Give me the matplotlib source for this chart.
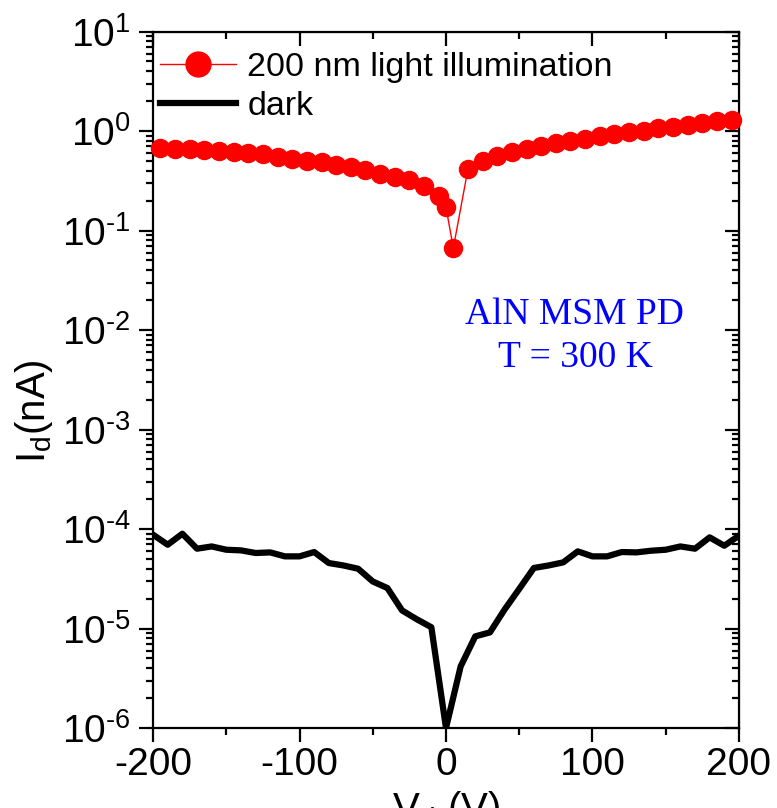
import numpy as np
import matplotlib.pyplot as plt
from matplotlib.ticker import LogLocator, MultipleLocator, NullFormatter

plt.rcParams['font.family'] = ['Liberation Sans', 'DejaVu Sans']
plt.rcParams['axes.unicode_minus'] = False
plt.rcParams['mathtext.fontset'] = 'custom'
plt.rcParams['mathtext.rm'] = 'Liberation Sans'

# photocurrent under 200 nm illumination
v_light = [-195, -185, -175, -165, -155, -145, -135, -125, -115, -105,
           -95, -85, -75, -65, -55, -45, -35, -25, -15, -5, 0, 5,
           15, 25, 35, 45, 55, 65, 75, 85, 95, 105, 115, 125, 135,
           145, 155, 165, 175, 185, 195]
i_light = [0.675, 0.66, 0.66, 0.65, 0.634, 0.62, 0.60, 0.587, 0.548, 0.523,
           0.50, 0.484, 0.455, 0.43, 0.408, 0.372, 0.345, 0.324, 0.282, 0.22, 0.171, 0.0667,
           0.415, 0.503, 0.565, 0.615, 0.66, 0.711, 0.751, 0.80, 0.837, 0.897, 0.933, 0.977, 1.01,
           1.06, 1.11, 1.16, 1.20, 1.25, 1.30]

# dark current
v_dark = list(range(-200, 201, 10))
i_dark = [8.77e-5, 6.95e-5, 8.97e-5, 6.34e-5, 6.68e-5, 6.19e-5, 6.1e-5, 5.74e-5, 5.82e-5, 5.31e-5,
          5.31e-5, 5.87e-5, 4.55e-5, 4.3e-5, 3.99e-5, 2.97e-5, 2.55e-5, 1.52e-5, 1.24e-5, 1.03e-5,
          1.0e-6,
          4.16e-6, 8.34e-6, 9.14e-6, 1.55e-5, 2.5e-5, 4.06e-5, 4.3e-5, 4.62e-5, 5.96e-5, 5.31e-5,
          5.31e-5, 5.87e-5, 5.82e-5, 6.05e-5, 6.19e-5, 6.68e-5, 6.34e-5, 8.24e-5, 6.79e-5, 8.57e-5]

y_exp = list(range(-6, 2))

fig = plt.figure(figsize=(7.77, 8.08), dpi=100)
ax = fig.add_axes([0.197, 0.099, 0.754, 0.862])

ax.plot(v_light, i_light, color='red', lw=1, marker='o', ms=13,
        label='200 nm light illumination', clip_on=False, zorder=3)
ax.plot(v_dark, i_dark, color='black', lw=4.5, label='dark')

ax.set_yscale('log')
ax.set_xlim(-200, 200)
ax.set_ylim(1e-6, 1e1)

ax.xaxis.set_major_locator(MultipleLocator(100))
ax.xaxis.set_minor_locator(MultipleLocator(50))
ax.yaxis.set_minor_locator(LogLocator(base=10, subs=np.arange(2, 10), numticks=20))
ax.yaxis.set_minor_formatter(NullFormatter())
ax.set_yticks([10.0 ** k for k in y_exp])
ax.set_yticklabels([r'$\mathregular{10^{\text{%d}}}$' % k for k in y_exp])

for s in ax.spines.values():
    s.set_linewidth(1.6)
ax.tick_params(which='both', direction='out', width=1.6, labelsize=28)
ax.tick_params(axis='x', pad=4)
ax.tick_params(axis='y', pad=6)
ax.tick_params(which='major', length=10)
ax.tick_params(which='minor', length=5)

# mirrored axes with inward ticks
top = ax.secondary_xaxis('top')
top.xaxis.set_major_locator(MultipleLocator(100))
top.xaxis.set_minor_locator(MultipleLocator(50))
top.tick_params(which='both', direction='in', width=1.6, labeltop=False)
top.tick_params(which='major', length=10)
top.tick_params(which='minor', length=5)
right = ax.secondary_yaxis('right')
right.set_yscale('log')
right.yaxis.set_major_locator(LogLocator(base=10, numticks=20))
right.yaxis.set_minor_locator(LogLocator(base=10, subs=np.arange(2, 10), numticks=20))
right.tick_params(which='both', direction='in', width=1.6, labelright=False)
right.tick_params(which='major', length=10)
right.tick_params(which='minor', length=5)

ax.set_ylabel(r'$\mathregular{I_d}$(nA)', fontsize=29)
ax.yaxis.set_label_coords(-0.168, 0.455)
ax.set_xlabel(r'$\mathregular{V_d}$ (V)', fontsize=29)
ax.xaxis.set_label_coords(0.5, -0.088)

ax.text(0.72, 0.593, 'AlN MSM PD', transform=ax.transAxes, color='blue',
        fontsize=27, family='Liberation Serif', ha='center', va='center')
ax.text(0.72, 0.532, 'T = 300 K', transform=ax.transAxes, color='blue',
        fontsize=27, family='Liberation Serif', ha='center', va='center')

ax.legend(loc='upper left', frameon=False, fontsize=24.5, handlelength=2.25,
          handletextpad=0.32, labelspacing=0.24, borderaxespad=0,
          borderpad=0.2, markerscale=1.38, bbox_to_anchor=(0.0, 0.981))

fig.savefig('out.png', dpi=100)
